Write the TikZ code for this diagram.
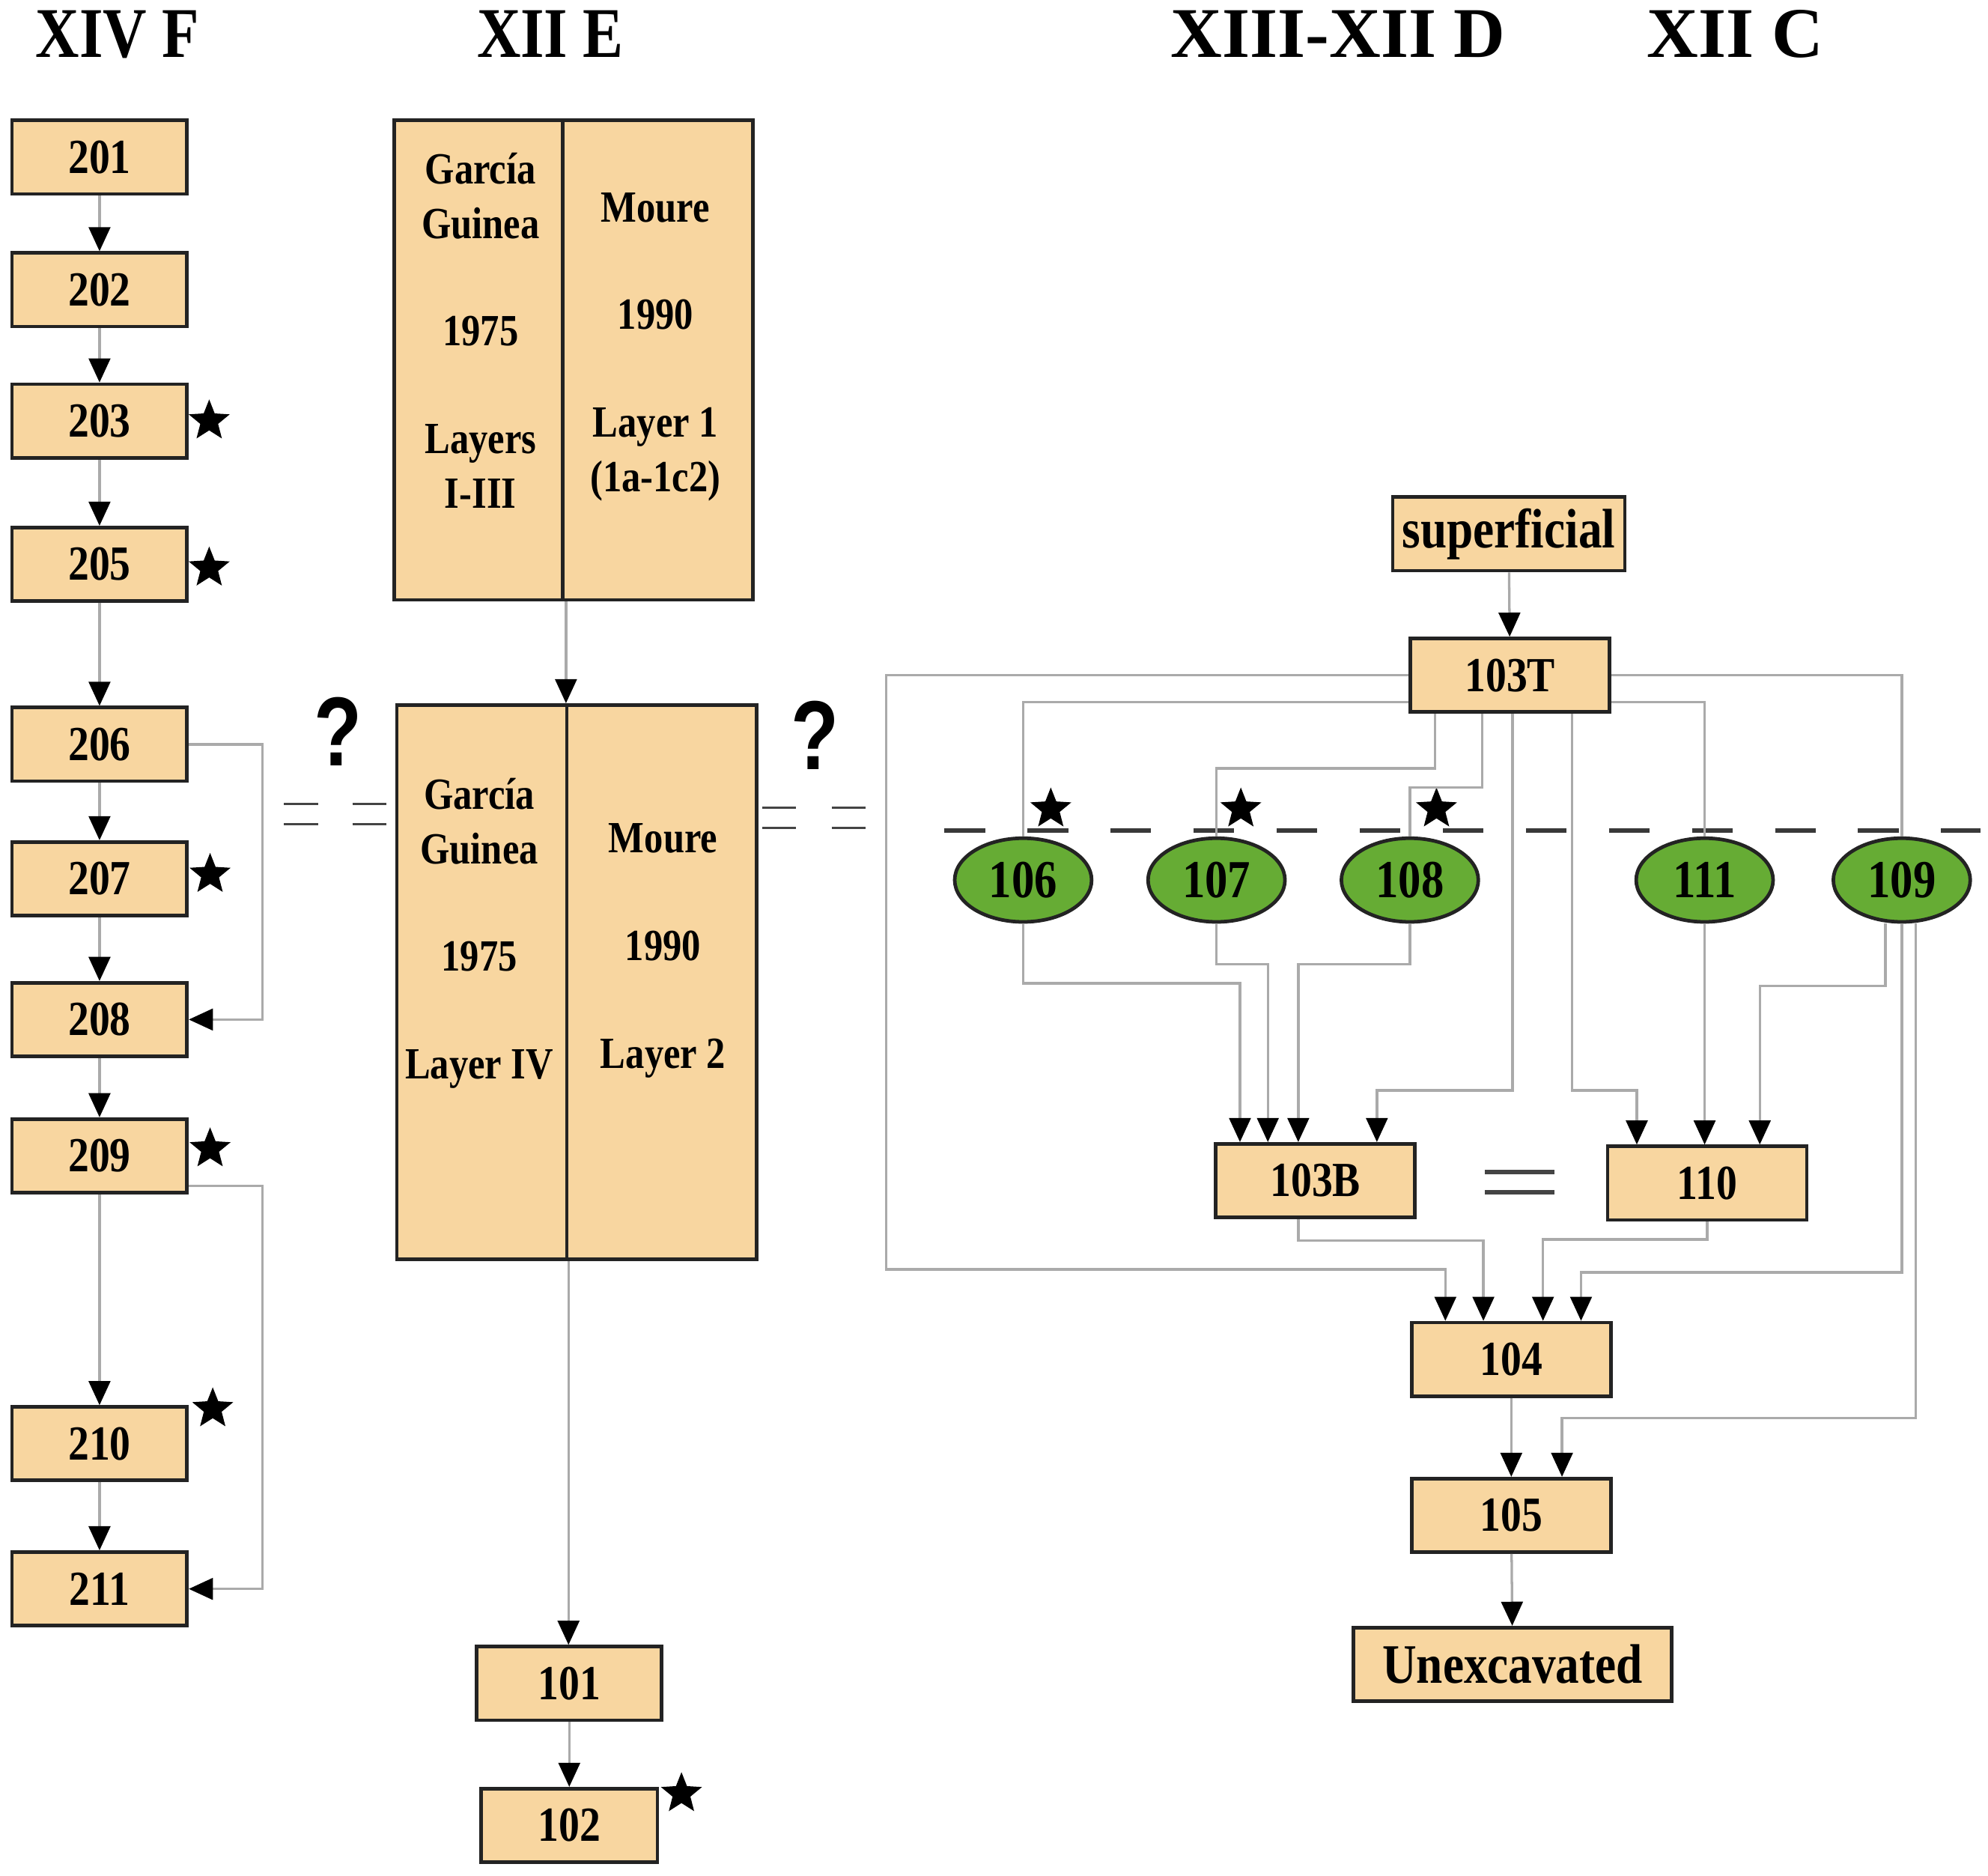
\documentclass[tikz,border=0pt]{standalone}
\usepackage{fontspec}
\setmainfont{Liberation Serif}[FakeStretch=0.85]
\newfontfamily\widefont{Liberation Serif}
\newfontfamily\qfont{Liberation Sans}[FakeStretch=0.8]
\usepackage{tikz}
\usetikzlibrary{arrows.meta,positioning,shapes.geometric,calc}
\definecolor{peach}{RGB}{248,214,160}
\definecolor{pitgreen}{RGB}{102,172,52}
\definecolor{linegray}{RGB}{170,170,170}
\definecolor{boxline}{RGB}{35,35,35}

\begin{document}
\begin{tikzpicture}[x=0.1mm,y=-0.1mm,>={Triangle[length=1.9mm,width=1.7mm,color=black]}]
  \tikzstyle{unit}=[draw=boxline,line width=0.8pt,fill=peach,minimum width=13.8mm,minimum height=5.8mm,inner sep=0pt,font=\fontsize{11}{13}\selectfont\bfseries]
  \tikzstyle{wide}=[unit,minimum width=15.7mm]
  \tikzstyle{pit}=[ellipse,draw=boxline,line width=0.8pt,fill=pitgreen,minimum width=10.8mm,minimum height=6.6mm,inner sep=0pt,font=\fontsize{12}{14}\selectfont\bfseries]
  \tikzstyle{column}=[draw=boxline,line width=0.8pt,fill=peach,inner sep=0pt]
  \tikzstyle{coltext}=[align=center,inner sep=0pt,font=\fontsize{10}{12.2}\selectfont\bfseries]
  \tikzstyle{conn}=[draw=linegray,line width=0.55pt]
  \tikzstyle{starmark}=[star,star points=5,star point ratio=2.3,fill=black,minimum size=3.4mm,inner sep=0pt]
  \tikzstyle{title}=[inner sep=0pt,font=\fontsize{16}{18}\selectfont\bfseries]
  \tikzstyle{query}=[inner sep=0pt,font=\qfont\fontsize{22}{24}\selectfont\bfseries]
  \tikzstyle{eqbar}=[draw=boxline!85,line width=0.6pt]
  \tikzstyle{dashline}=[draw=boxline!90,line width=1.1pt,dash pattern=on 3.2mm off 3.35mm]
  \useasboundingbox (0,0) rectangle (1568,1479);

  % column headings
  \node[title] (tF) at (92.5,27) {XIV F};
  \node[title] (tE) at (434,27) {XII E};
  \node[title] (tD) at (1055.5,27) {\widefont XIII-XII D};
  \node[title] (tC) at (1368.5,27) {\widefont XII C};

  % XIV F
  \foreach \n/\y in {201/124,202/228.5,203/332,205/445,206/587,207/693,208/804,209/911.5,210/1138.5,211/1253}
    \node[unit] (u\n) at (78.5,\y) {\n};
  \foreach \a/\b in {201/202,202/203,203/205,205/206,206/207,207/208,208/209,209/210,210/211}
    \draw[conn,->] (u\a) -- (u\b);
  \draw[conn,->] (u206.east) -- ++(58,0) |- (u208.east);
  \draw[conn,->] ([yshift=-2.35mm]u209.east) -- ++(58,0) |- (u211.east);
  \foreach \x/\y [count=\i] in {165/332,165/448,165.7/689.6,165.7/906,167.8/1111}
    \node[starmark] (sF\i) at (\x,\y) {};

  % XII E
  \node[column,minimum width=13.3mm,minimum height=37.8mm] (gg1) at (377.5,284) {};
  \node[column,minimum width=15mm,minimum height=37.8mm] (mo1) at (519,284) {};
  \node[coltext] (gg1t) at (379,260.5) {García\\Guinea\\[4.2mm]1975\\[4.2mm]Layers\\I-III};
  \node[coltext] (mo1t) at (517,273.5) {Moure\\[4.2mm]1990\\[4.2mm]Layer 1\\(1a-1c2)};
  \node[column,minimum width=13.4mm,minimum height=43.7mm] (gg2) at (380,774.5) {};
  \node[column,minimum width=15mm,minimum height=43.7mm] (mo2) at (522,774.5) {};
  \node[coltext] (gg2t) at (378,736) {García\\Guinea\\[4.2mm]1975\\[4.2mm]Layer IV};
  \node[coltext] (mo2t) at (523,749.75) {Moure\\[4.2mm]1990\\[4.2mm]Layer 2};
  \node[unit,minimum width=14.6mm] (u101) at (449,1327.5) {101};
  \node[unit,minimum width=13.9mm] (u102) at (449,1439.5) {102};
  \node[starmark] (sE) at (537.5,1414.5) {};
  \draw[conn,->] ([xshift=0.1mm]gg1.south east) -- ([xshift=0.1mm]gg1.south east |- gg2.north);
  \draw[conn,->] (gg2.south east) -- (gg2.south east |- u101.north);
  \draw[conn,->] (u101) -- (u102);

  % correlation marks
  \node[query] (q1) at (266.5,577) {?};
  \node[query] (q2) at (643,580) {?};
  \foreach \x/\y in {224/634,278/634,601/637,656/637}
    \draw[eqbar] (\x,\y) -- ++(27,0) (\x,\y+16) -- ++(27,0);

  % XIII-XII D and XII C
  \draw[dashline] (745,655) -- (1562,655);
  \node[unit,minimum width=18.3mm,font=\fontsize{12.5}{14}\selectfont\bfseries] (sup) at (1190,421) {superficial};
  \node[wide] (u103T) at (1191,532.5) {103T};
  \foreach \n/\x in {106/807,107/959.5,108/1112,111/1344.5,109/1500}
    \node[pit] (u\n) at (\x,694) {\n};
  \foreach \x [count=\i] in {828.8,978.7,1133}
    \node[starmark] (sD\i) at (\x,638) {};
  \node[wide] (u103B) at (1037.5,931) {103B};
  \node[wide] (u110) at (1346.5,933) {110};
  \draw[eqbar,line width=1pt] (1171,924) -- (1226,924) (1171,940) -- (1226,940);
  \node[wide] (u104) at (1192,1072) {104};
  \node[wide] (u105) at (1192,1195) {105};
  \node[unit,minimum width=25.1mm,font=\fontsize{12.5}{14}\selectfont\bfseries] (unexc) at (1193,1312.5) {Unexcavated};

  \draw[conn,->] (sup) -- (u103T);
  \draw[conn,->] (u103T.west) -| (699,1001) -| ([xshift=-5.2mm]u104.north);
  \draw[conn] ([yshift=-2.1mm]u103T.west) -| (u106.north);
  \draw[conn] ([xshift=-5.9mm]u103T.south) -- ++(0,43) -| (u107.north);
  \draw[conn] ([xshift=-2.2mm]u103T.south) -- ++(0,58) -| (u108.north);
  \draw[conn,->] ([xshift=0.2mm]u103T.south) -- ++(0,297) -| ([xshift=4.85mm]u103B.north);
  \draw[conn,->] ([xshift=4.9mm]u103T.south) -- ++(0,297) -| ([xshift=-5.55mm]u110.north);
  \draw[conn] ([yshift=-2.1mm]u103T.east) -| (u111.north);
  \draw[conn] (u103T.east) -| (u109.north);
  \draw[conn,->] (u106.south) -- ++(0,47) -| ([xshift=-5.95mm]u103B.north);
  \draw[conn,->] (u107.south) -- ++(0,32) -| ([xshift=-3.75mm]u103B.north);
  \draw[conn,->] (u108.south) -- ++(0,32) -| ([xshift=-1.35mm]u103B.north);
  \draw[conn,->] (u111.south) -- (u111.south |- u110.north);
  \draw[conn,->] ([xshift=-1.3mm]u109.south) -- ++(0,49) -| ([xshift=4.15mm]u110.north);
  \draw[conn,->] (u109.south) -- ++(0,275) -| ([xshift=5.5mm]u104.north);
  \draw[conn,->] ([xshift=1.1mm]u109.south) -- ++(0,390) -| ([xshift=4mm]u105.north);
  \draw[conn,->] ([xshift=-1.35mm]u103B.south) -- ++(0,17) -| ([xshift=-2.2mm]u104.north);
  \draw[conn,->] (u110.south) -- ++(0,14) -| ([xshift=2.5mm]u104.north);
  \draw[conn,->] (u104) -- (u105);
  \draw[conn,->] (u105) -- (unexc);
\end{tikzpicture}
\end{document}
